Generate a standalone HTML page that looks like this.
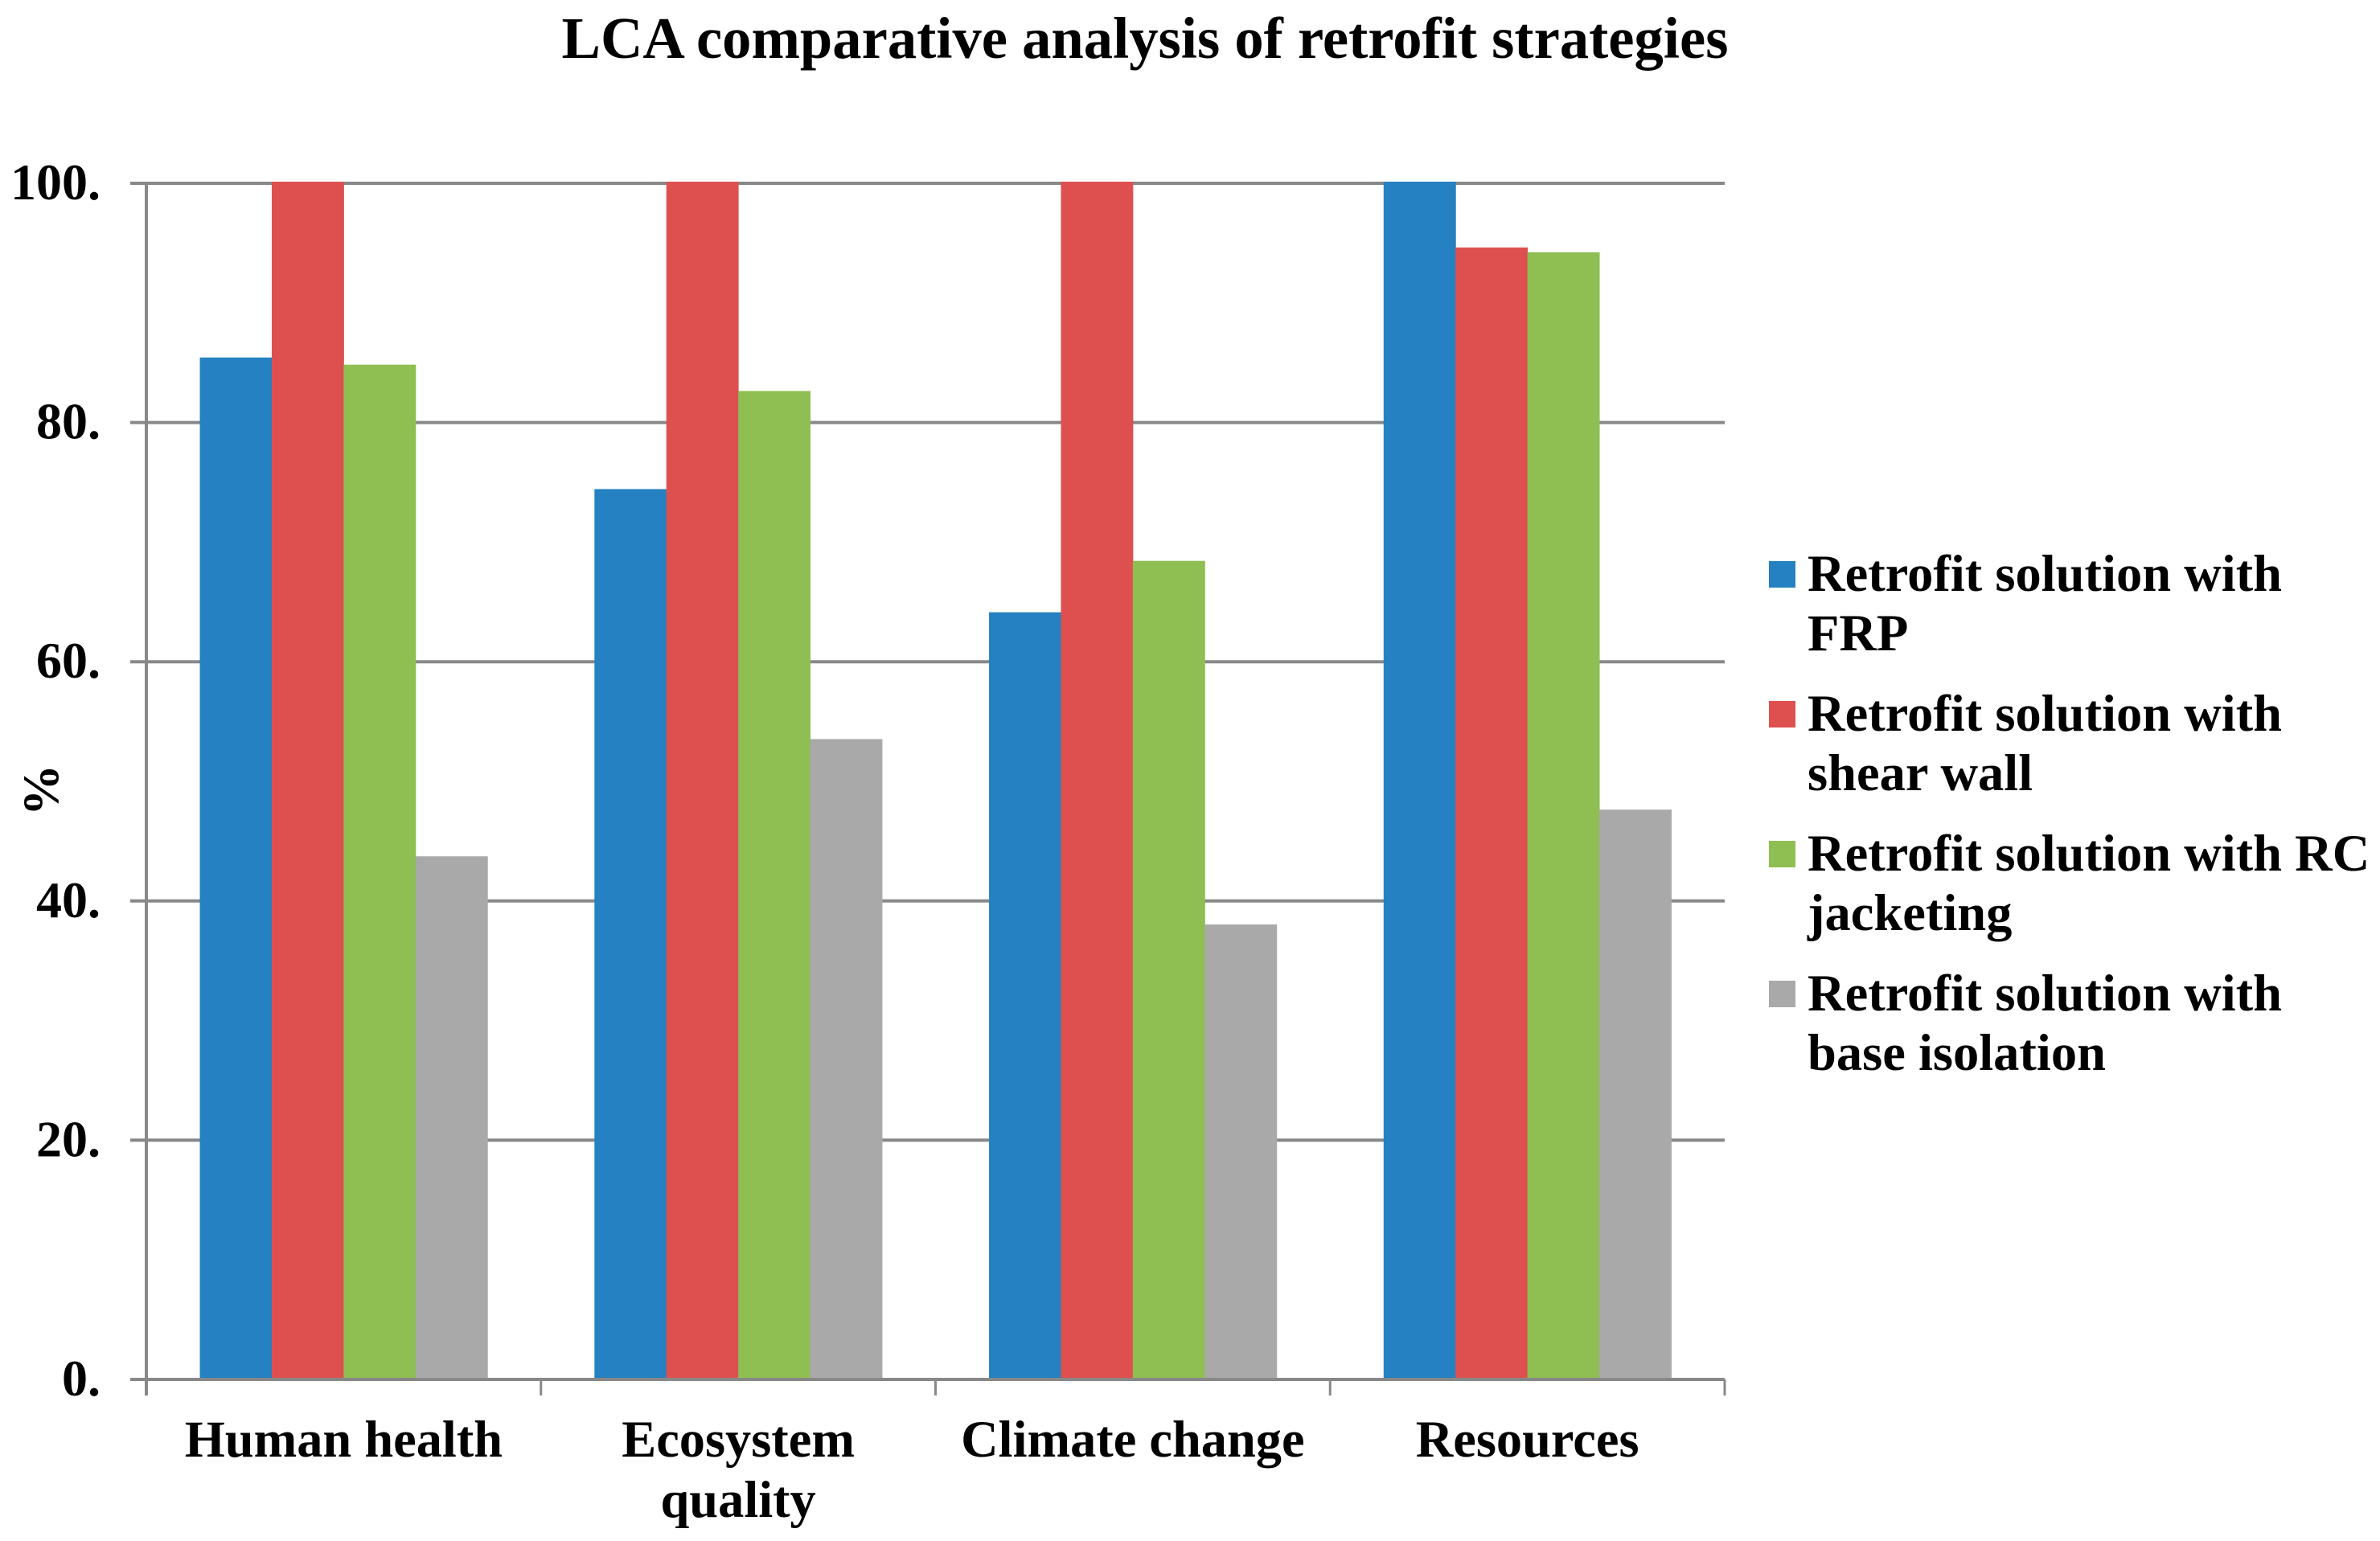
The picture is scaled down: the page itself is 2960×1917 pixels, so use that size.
<!DOCTYPE html>
<html lang="en">
<head>
<meta charset="utf-8">
<title>LCA comparative analysis of retrofit strategies</title>
<style>
html,body{margin:0;padding:0;background:#fff;}
svg{display:block;}
text{font-family:"Liberation Serif",serif;font-weight:bold;fill:#000;}
</style>
</head>
<body>
<svg id="chart" xmlns="http://www.w3.org/2000/svg" width="2960" height="1917" viewBox="0 0 2960 1917">
  <rect x="0" y="0" width="2960" height="1917" fill="#ffffff"/>
  <text x="1424" y="72" font-size="72.6" text-anchor="middle">LCA comparative analysis of retrofit strategies</text>
  <text transform="translate(72 983) rotate(-90)" font-size="64" text-anchor="middle">%</text>
  <g id="plot"></g>
  <g id="legend"></g>
</svg>
<script>
const categories = [["Human health"], ["Ecosystem", "quality"], ["Climate change"], ["Resources"]];
const seriesFRP = [85.3, 74.3, 64.0, 100];
const seriesShearWall = [100, 100, 100, 94.5];
const seriesRCJacketing = [84.7, 82.5, 68.3, 94.1];
const seriesBaseIsolation = [43.6, 53.4, 37.9, 47.5];
const tickValues = [0, 20, 40, 60, 80, 100];
const tickLabels = ["0.", "20.", "40.", "60.", "80.", "100."];
const seriesNames = ["frp", "shear-wall", "rc-jacketing", "base-isolation"];
const legendLines = [
  ["Retrofit solution with", "FRP"],
  ["Retrofit solution with", "shear wall"],
  ["Retrofit solution with RC", "jacketing"],
  ["Retrofit solution with", "base isolation"]
];

const allSeries = [seriesFRP, seriesShearWall, seriesRCJacketing, seriesBaseIsolation];
const colors = ["#2581c1", "#de5050", "#8fbe52", "#a9a9a9"];
const NS = "http://www.w3.org/2000/svg";
const plot = document.getElementById("plot");
const legend = document.getElementById("legend");

const plotLeft = 182, plotRight = 2145, plotTop = 228, plotBottom = 1716;
const axisColor = "#888888";
const catWidth = (plotRight - plotLeft) / categories.length;
const barWidth = catWidth * 0.1822;
const groupOffset = (catWidth - barWidth * allSeries.length) / 2;

function yScale(v) {
  return plotBottom - (v / 100) * (plotBottom - plotTop);
}
function xBand(c, s) {
  return plotLeft + c * catWidth + groupOffset + s * barWidth;
}
function make(tag, attrs, parent) {
  const el = document.createElementNS(NS, tag);
  for (const k in attrs) el.setAttribute(k, attrs[k]);
  parent.appendChild(el);
  return el;
}

// gridlines and y ticks
tickValues.forEach(function (v, i) {
  const y = yScale(v);
  const line = make("line", {x1: plotLeft - 20, x2: plotRight, y1: y, y2: y, stroke: axisColor, "stroke-width": 4}, plot);
  
  
  const label = make("text", {x: 125, y: y + 20, "font-size": 64, "text-anchor": "end"}, plot);
  label.textContent = tickLabels[i];
  
  
});

// bars
allSeries.forEach(function (values, s) {
  values.forEach(function (v, c) {
    const top = yScale(v) - 2;
    const bar = make("rect", {x: xBand(c, s), y: top, width: barWidth + 0.5, height: yScale(0) - 2 - top, fill: colors[s]}, plot);
    
    
  });
});

// axes drawn above bars
const baseLine = make("line", {x1: plotLeft - 20, x2: plotRight, y1: yScale(0), y2: yScale(0), stroke: axisColor, "stroke-width": 4}, plot);


const yAxis = make("line", {x1: plotLeft, x2: plotLeft, y1: plotTop - 2, y2: plotBottom + 20, stroke: axisColor, "stroke-width": 4}, plot);



// category ticks and labels
for (let c = 1; c <= categories.length; c++) {
  const x = plotLeft + c * catWidth;
  const tick = make("line", {x1: x, x2: x, y1: plotBottom, y2: plotBottom + 20, stroke: axisColor, "stroke-width": 3}, plot);
  
  
}
categories.forEach(function (lines, c) {
  lines.forEach(function (txt, i) {
    const t = make("text", {x: plotLeft + (c + 0.5) * catWidth, y: 1812 + i * 75, "font-size": 64.4, "text-anchor": "middle"}, plot);
    t.textContent = txt;
    
    
  });
});

// legend
legendLines.forEach(function (lines, s) {
  const baseY = 734 + s * 174;
  const swatch = make("rect", {x: 2200, y: baseY - 36, width: 33, height: 33, fill: colors[s]}, legend);
  
  
  lines.forEach(function (txt, i) {
    const t = make("text", {x: 2248, y: baseY + 1 + i * 74, "font-size": 64.5}, legend);
    t.textContent = txt;
    
    
  });
});
</script>
</body>
</html>
